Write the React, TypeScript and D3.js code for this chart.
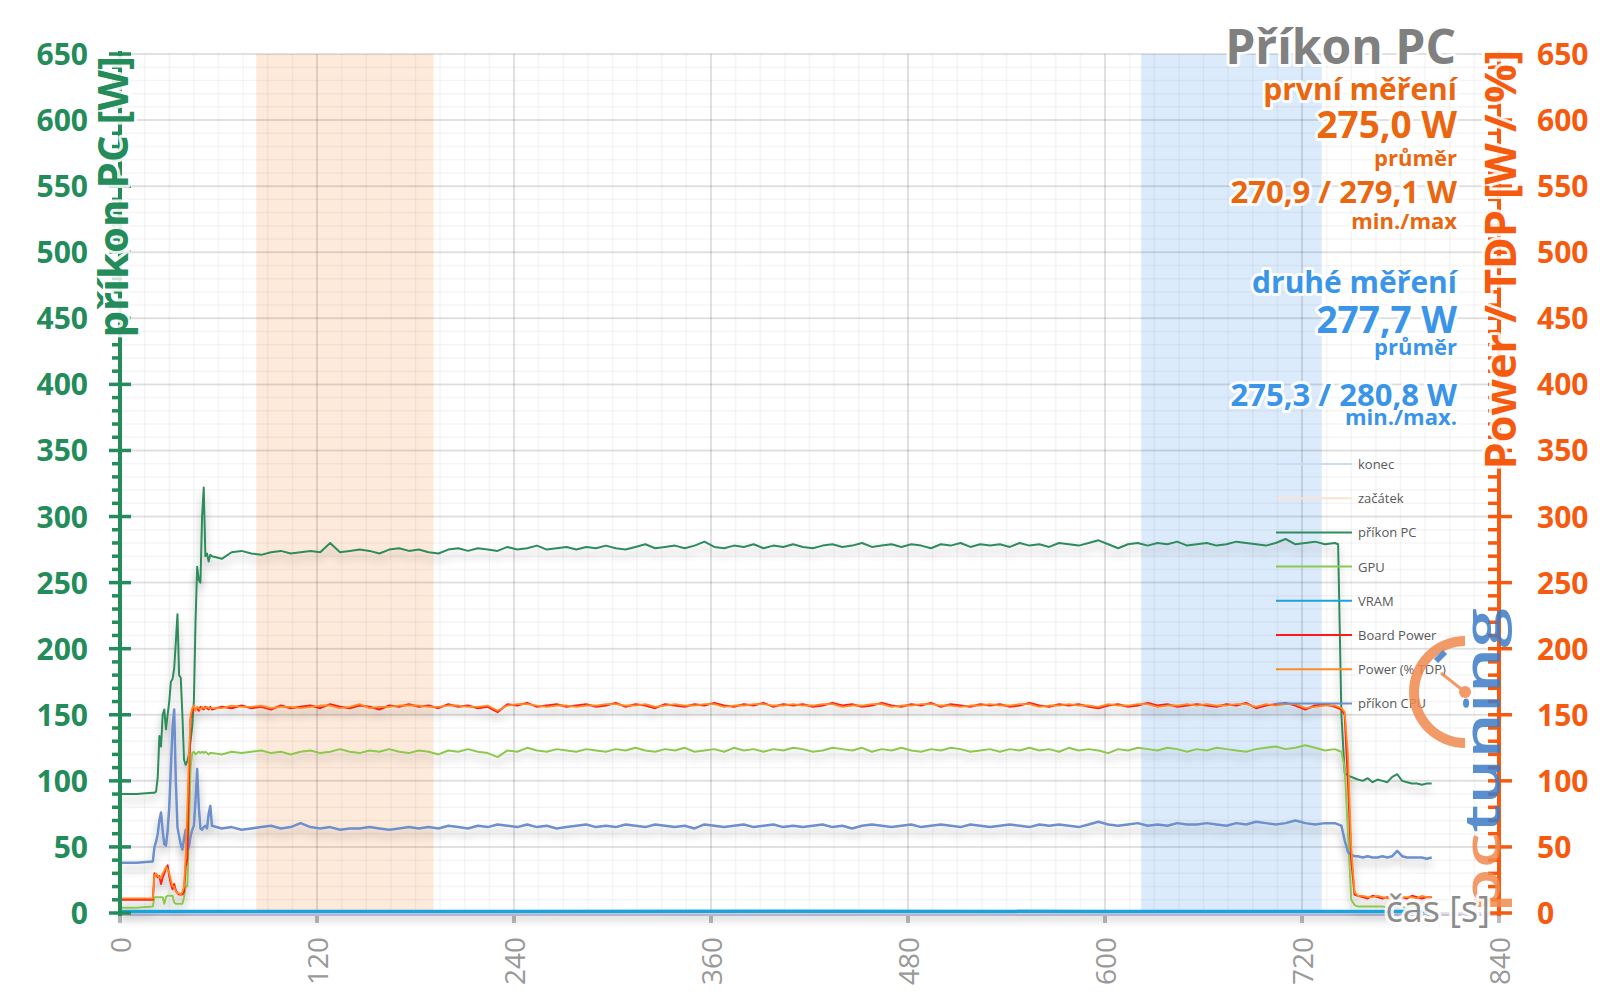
import { useEffect } from "react"
import * as d3 from "d3"

// time axis [s]: dense sampling at start, 6 s steps on the plateau, dense at the end
const earlyTime = [0, 10, 20, 21, 22, 23, 24, 25, 26, 27, 28, 29, 30, 31, 32, 33, 34, 35, 36, 37, 38, 39, 40, 41, 42, 43, 44, 45, 46, 47, 48, 49, 50, 51, 52, 53, 54, 55]
const midTime = d3.range(56, 740, 6)
const endTime = [740, 742, 744, 746, 748, 750, 752, 754, 757, 760, 763, 766, 769, 772, 775, 778, 781, 784, 787, 790, 793, 796, 799]

const pcEarly = [90, 90, 91, 91, 92, 103, 134, 126, 150, 154, 139, 150, 160, 175, 177, 185, 205, 226, 180, 178, 150, 116, 112, 115, 120, 130, 141, 160, 220, 262, 252, 250, 300, 322, 270, 272, 266, 271]
const pcMid = [
  270, 268, 273, 274, 272, 271, 273, 274, 272, 273,
  274, 273, 280, 273, 274, 275, 274, 272, 275, 276,
  274, 275, 273, 272, 275, 276, 274, 276, 275, 274,
  277, 275, 276, 278, 275, 276, 277, 275, 277, 276,
  278, 276, 275, 277, 279, 276, 277, 278, 276, 278,
  281, 277, 276, 278, 277, 279, 276, 278, 277, 279,
  277, 276, 278, 279, 277, 278, 280, 277, 278, 279,
  277, 279, 278, 276, 279, 278, 280, 277, 279, 278,
  279, 277, 280, 278, 279, 277, 280, 279, 278, 280,
  282, 279, 276, 279, 280, 278, 280, 279, 281, 278,
  279, 280, 278, 279, 281, 280, 279, 278, 280, 283,
  279, 280, 281, 279,
]
const pcEnd = [280, 279, 150, 106, 104, 103, 102, 101, 100, 102, 99, 101, 100, 99, 103, 105, 100, 99, 98, 98, 97, 98, 98]

const gpuEarly = [4, 4, 5, 12, 12, 12, 12, 12, 12, 7, 12, 13, 13, 13, 13, 8, 7, 7, 7, 7, 7, 12, 20, 20, 60, 110, 121, 122, 120, 121, 122, 121, 122, 121, 122, 121, 120, 121]
const gpuMid = [
  121, 120, 122, 121, 122, 123, 121, 122, 120, 122,
  123, 121, 122, 124, 122, 121, 123, 122, 124, 122,
  121, 123, 122, 120, 123, 122, 124, 122, 121, 118,
  123, 122, 125, 123, 122, 124, 123, 122, 124, 123,
  122, 124, 123, 125, 123, 122, 124, 123, 125, 122,
  123, 124, 122, 125, 123, 124, 122, 124, 123, 125,
  124, 122, 123, 125, 124, 123, 125, 122, 124, 123,
  125, 123, 122, 124, 123, 125, 124, 122, 123, 124,
  122, 124, 123, 125, 123, 124, 122, 125, 123, 124,
  123, 121, 124, 123, 125, 124, 123, 125, 124, 122,
  124, 123, 125, 124, 123, 122, 124, 125, 126, 124,
  125, 127, 125, 123,
]
const gpuEnd = [124, 123, 122, 110, 60, 10, 6, 5, 5, 5, 5, 5, 5, 4, 5, 5, 5, 4, 5, 5, 5, 5, 5]

const boardEarly = [10, 10, 10, 30, 29, 27, 28, 22, 27, 30, 34, 36, 28, 22, 18, 22, 17, 15, 14, 14, 14, 16, 35, 41, 100, 147, 152, 156, 154, 155, 153, 156, 155, 154, 156, 155, 154, 156]
const boardMid = [
  154, 156, 155, 157, 155, 156, 154, 157, 155, 156,
  157, 155, 158, 156, 155, 157, 156, 154, 157, 156,
  158, 156, 157, 155, 158, 156, 157, 155, 156, 152,
  158, 157, 159, 156, 157, 158, 156, 157, 158, 156,
  157, 159, 156, 158, 157, 155, 158, 157, 156, 158,
  157, 159, 157, 156, 158, 157, 159, 156, 158, 157,
  158, 156, 157, 159, 157, 158, 156, 157, 159, 157,
  156, 158, 157, 159, 156, 158, 157, 156, 158, 157,
  158, 156, 157, 159, 157, 156, 158, 157, 158, 156,
  155, 157, 158, 156, 157, 159, 157, 158, 156, 157,
  158, 157, 156, 158, 157, 159, 155, 157, 158, 159,
  157, 154, 157, 158,
]
const boardEnd = [156, 155, 154, 150, 100, 40, 14, 13, 12, 11, 13, 12, 11, 12, 13, 11, 12, 11, 13, 12, 11, 12, 12]

const tdpEarly = [11, 11, 11, 28, 30, 28, 27, 26, 30, 32, 35, 33, 30, 25, 20, 20, 16, 15, 15, 14, 16, 20, 45, 80, 120, 150, 155, 157, 153, 156, 155, 154, 156, 155, 155, 156, 155, 155]
const tdpMid = [
  155, 155, 157, 156, 156, 157, 155, 156, 156, 155,
  156, 157, 157, 155, 156, 158, 155, 156, 156, 157,
  157, 157, 156, 156, 157, 157, 156, 156, 157, 153,
  157, 158, 158, 157, 156, 157, 157, 156, 157, 157,
  158, 158, 157, 157, 158, 156, 157, 158, 157, 157,
  158, 158, 156, 157, 157, 158, 158, 157, 157, 158,
  157, 157, 158, 158, 156, 157, 157, 158, 158, 156,
  157, 157, 158, 158, 157, 157, 156, 157, 157, 158,
  157, 157, 158, 158, 156, 157, 157, 158, 157, 157,
  156, 158, 157, 157, 158, 158, 156, 157, 157, 158,
  157, 158, 157, 157, 158, 158, 156, 158, 157, 158,
  158, 155, 156, 157,
]
const tdpEnd = [157, 156, 155, 152, 120, 50, 16, 13, 13, 12, 12, 13, 12, 11, 12, 13, 12, 12, 12, 11, 13, 12, 12]

const cpuEarly = [38, 38, 39, 50, 54, 60, 70, 76, 62, 52, 51, 62, 80, 110, 140, 154, 100, 65, 58, 52, 48, 56, 63, 48, 50, 58, 63, 66, 85, 109, 80, 64, 63, 65, 66, 64, 75, 81]
const cpuMid = [
  66, 64, 65, 63, 64, 65, 66, 64, 65, 68,
  65, 64, 65, 63, 64, 64, 65, 64, 63, 64,
  65, 64, 65, 64, 66, 65, 64, 66, 65, 67,
  66, 65, 67, 65, 66, 64, 65, 66, 67, 65,
  66, 65, 67, 66, 65, 67, 66, 65, 66, 64,
  67, 66, 65, 66, 67, 65, 66, 67, 65, 66,
  65, 66, 67, 65, 66, 64, 66, 67, 66, 65,
  66, 67, 65, 66, 67, 66, 65, 67, 66, 65,
  66, 67, 66, 65, 67, 66, 67, 66, 65, 67,
  69, 67, 66, 67, 68, 66, 67, 66, 68, 67,
  67, 68, 67, 66, 68, 67, 69, 68, 67, 68,
  70, 68, 67, 68,
]
const cpuEnd = [68, 67, 66, 55, 46, 44, 43, 43, 42, 43, 42, 42, 43, 42, 43, 47, 43, 42, 42, 42, 42, 41, 42]

const vramTime = [0, 200, 400, 600, 800]
const vramValues = [1.2, 1.2, 1.3, 1.2, 1.2]

// highlighted intervals [s]
const startBand = [83, 191]
const endBand = [622, 732]

const yTicks = d3.range(0, 651, 50)
const xTicks = d3.range(0, 841, 120)

const legendLabels = ["konec", "začátek", "příkon PC", "GPU", "VRAM", "Board Power", "Power (% TDP)", "příkon CPU"]
const legendColors = ["#c9dcf2", "#fbe3cf", "#2f8c5c", "#8cc850", "#1aa3dd", "#ff1a1a", "#ff8a20", "#6d8fcb"]

const firstStats = ["první měření", "275,0 W", "průměr", "270,9 / 279,1 W", "min./max"]
const secondStats = ["druhé měření", "277,7 W", "průměr", "275,3 / 280,8 W", "min./max."]

const GREEN = "#238c5a"
const ORANGE = "#f55a0f"
const TEXT_ORANGE = "#ea660f"
const TEXT_BLUE = "#3a95e8"
const FONT = "'Open Sans', sans-serif"

export default function App() {
  useEffect(() => {
    document.body.style.margin = "0"
  }, [])

  const width = 1600
  const height = 1008

  const x = d3.scaleLinear().domain([0, 840]).range([120, 1499])
  const y = d3.scaleLinear().domain([0, 650]).range([913, 54])

  const time = [...earlyTime, ...midTime, ...endTime]
  const toPts = (vals: number[], ts: number[] = time) => ts.map((t, i) => [t, vals[i]] as [number, number])
  const line = d3.line<[number, number]>().x(d => x(d[0])).y(d => y(d[1]))

  const series = [
    { name: "VRAM", color: "#1aa3dd", w: 3.5, pts: toPts(vramValues, vramTime) },
    { name: "příkon PC", color: "#2f8c5c", w: 2, pts: toPts([...pcEarly, ...pcMid, ...pcEnd]) },
    { name: "GPU", color: "#8cc850", w: 2, pts: toPts([...gpuEarly, ...gpuMid, ...gpuEnd]) },
    { name: "příkon CPU", color: "#6d8fcb", w: 2.5, pts: toPts([...cpuEarly, ...cpuMid, ...cpuEnd]) },
    { name: "Board Power", color: "#ff1a1a", w: 2, pts: toPts([...boardEarly, ...boardMid, ...boardEnd]) },
    { name: "Power (% TDP)", color: "#ff8a20", w: 1.8, pts: toPts([...tdpEarly, ...tdpMid, ...tdpEnd]) },
  ]

  const glow = {
    stroke: "#fff",
    strokeWidth: 6,
    strokeLinejoin: "round" as const,
    paintOrder: "stroke",
    strokeOpacity: 0.9,
  }

  const statSizes = [30, 37, 22, 31, 22]
  const firstBase = [100, 138, 166, 203, 229]
  const secondBase = [293, 333, 355, 406, 425]

  const arcPath = d3.arc()({ innerRadius: 46, outerRadius: 56, startAngle: Math.PI, endAngle: 2 * Math.PI }) || ""

  return (
    <svg width={width} height={height} style={{ position: "absolute", left: 0, top: 0, background: "#fff" }} fontFamily={FONT}>
      <defs>
        <filter id="shadow" filterUnits="userSpaceOnUse" x="0" y="0" width={width} height={height}>
          <feGaussianBlur in="SourceAlpha" stdDeviation="4" />
          <feOffset dy="6" result="b" />
          <feComponentTransfer>
            <feFuncA type="linear" slope="0.3" />
          </feComponentTransfer>
          <feMerge>
            <feMergeNode />
            <feMergeNode in="SourceGraphic" />
          </feMerge>
        </filter>
      </defs>

      {/* bands */}
      <rect x={x(startBand[0])} y={y(650)} width={x(startBand[1]) - x(startBand[0])} height={y(0) - y(650)} fill="#fdeadb" />
      <rect x={x(endBand[0])} y={y(650)} width={x(endBand[1]) - x(endBand[0])} height={y(0) - y(650)} fill="#dcebfb" />

      {/* minor grid */}
      {d3.range(0, 841, 15).map(v => (
        <line key={"mx" + v} x1={x(v)} x2={x(v)} y1={y(650)} y2={y(0)} stroke="#000" strokeOpacity={0.04} strokeWidth={1.5} />
      ))}
      {d3.range(0, 651, 10).map(v => (
        <line key={"my" + v} x1={x(0)} x2={x(840)} y1={y(v)} y2={y(v)} stroke="#000" strokeOpacity={0.04} strokeWidth={1.5} />
      ))}
      {/* major grid */}
      {xTicks.map(v => (
        <line key={"gx" + v} x1={x(v)} x2={x(v)} y1={y(650)} y2={y(0)} stroke="#000" strokeOpacity={0.09} strokeWidth={2} />
      ))}
      {yTicks.map(v => (
        <line key={"gy" + v} x1={x(0)} x2={x(840)} y1={y(v)} y2={y(v)} stroke="#000" strokeOpacity={0.09} strokeWidth={2} />
      ))}

      {/* x axis */}
      <line x1={x(0)} x2={x(840)} y1={y(0) + 2} y2={y(0) + 2} stroke="#c9c3e0" strokeWidth={2} />
      {xTicks.map(v => (
        <g key={"xt" + v}>
          <rect x={x(v) - 2} y={y(0) + 3} width={4} height={7} fill="#bbb" />
          <text transform={`translate(${x(v)},937) rotate(-90)`} textAnchor="end" dominantBaseline="central" fontSize={28} fill="#999">
            {v}
          </text>
        </g>
      ))}

      {/* series */}
      <g filter="url(#shadow)">
        {series.map(s => (
          <path key={s.name} d={line(s.pts) || ""} fill="none" stroke={s.color} strokeWidth={s.w} strokeLinejoin="round" />
        ))}
      </g>

      {/* legend */}
      {legendLabels.map((label, i) => (
        <g key={label} transform={`translate(1276,${464 + i * 34.2})`}>
          <line x1={0} x2={76} y1={0} y2={0} stroke={legendColors[i]} strokeWidth={2} />
          <text x={82} y={0} dominantBaseline="central" fontSize={13} fill="#595959">
            {label}
          </text>
        </g>
      ))}

      {/* left axis */}
      <line x1={x(0)} x2={x(0)} y1={y(650) - 3} y2={y(0) + 3} stroke={GREEN} strokeWidth={4} />
      {d3.range(0, 651, 10).map(v => (
        <line key={"lt" + v} x1={v % 50 === 0 ? 109 : 112} x2={v % 50 === 0 ? 131 : 120} y1={y(v)} y2={y(v)} stroke={GREEN} strokeWidth={3.5} />
      ))}
      {yTicks.map(v => (
        <text key={"ll" + v} x={88} y={y(v) + 11} textAnchor="end" fontSize={30} fontWeight={700} fill={GREEN}>
          {v}
        </text>
      ))}
      <text transform="translate(128,56) rotate(-90)" textAnchor="end" fontSize={42} fontWeight={700} fill={GREEN} style={glow}>
        příkon PC [W]
      </text>

      {/* right axis */}
      <line x1={x(840)} x2={x(840)} y1={y(650) - 3} y2={y(0) + 3} stroke={ORANGE} strokeWidth={4} />
      {d3.range(0, 651, 10).map(v => (
        <line key={"rt" + v} x1={1488} x2={v % 50 === 0 ? 1512 : 1499} y1={y(v)} y2={y(v)} stroke={ORANGE} strokeWidth={3.5} />
      ))}
      {yTicks.map(v => (
        <text key={"rl" + v} x={1537} y={y(v) + 11} textAnchor="start" fontSize={30} fontWeight={700} fill={ORANGE}>
          {v}
        </text>
      ))}
      <text transform="translate(1516,50) rotate(-90)" textAnchor="end" fontSize={43} fontWeight={700} fill={ORANGE} style={glow}>
        Power / TDP [W / %]
      </text>

      {/* watermark */}
      <g opacity={0.85}>
        <path d={arcPath} transform="translate(1465,692)" fill="#f08a50" />
        <line x1={1465} y1={692} x2={1441} y2={673} stroke="#f08a50" strokeWidth={3} />
        <circle cx={1465} cy={692} r={6} fill="#f08a50" />
        <line x1={1436} y1={661} x2={1445} y2={652} stroke="#3d7cc6" strokeWidth={6} />
        <text transform="translate(1500,913) rotate(-90)" fontSize={48} fontWeight={600} textLength={305} lengthAdjust="spacingAndGlyphs">
          <tspan fill="#f08a50">pc</tspan>
          <tspan fill="#3d7cc6">tuning</tspan>
        </text>
      </g>

      {/* title and stats */}
      <text x={1456} y={64} textAnchor="end" fontSize={48} fontWeight={700} fill="#808080" style={glow}>
        Příkon PC
      </text>
      {firstStats.map((t, i) => (
        <text key={"f" + i} x={1457} y={firstBase[i]} textAnchor="end" fontSize={statSizes[i]} fontWeight={700} fill={TEXT_ORANGE} style={glow}>
          {t}
        </text>
      ))}
      {secondStats.map((t, i) => (
        <text key={"s" + i} x={1457} y={secondBase[i]} textAnchor="end" fontSize={statSizes[i]} fontWeight={700} fill={TEXT_BLUE} style={glow}>
          {t}
        </text>
      ))}

      <text x={1490} y={922} textAnchor="end" fontSize={36} fill="#8c8c8c" style={glow}>
        čas [s]
      </text>
    </svg>
  )
}
